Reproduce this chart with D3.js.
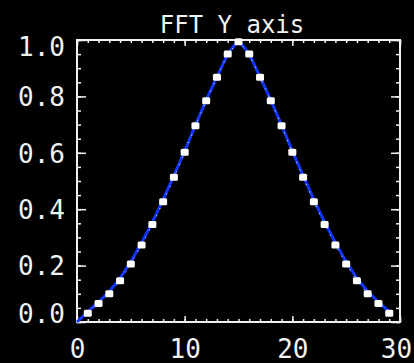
<!DOCTYPE html>
<html>
<head>
<meta charset="utf-8">
<script src="https://cdn.jsdelivr.net/npm/d3@7"></script>
<style>
  html, body { margin: 0; padding: 0; background: #000; }
  svg { display: block; }
</style>
</head>
<body>
<div id="chart"></div>
<script>
// FFT magnitude along the Y axis: sampled curve and marker points
const lineX = [0,1,2,3,4,5,6,7,8,9,10,11,12,13,14,15,16,17,18,19,20,21,22,23,24,25,26,27,28,29];
const lineY = [0.0,0.036,0.071,0.108,0.155,0.214,0.281,0.354,0.434,0.519,0.606,0.698,0.787,0.869,0.950,1.0,
               0.950,0.869,0.787,0.698,0.606,0.519,0.434,0.354,0.281,0.214,0.155,0.108,0.071,0.036];
const markX = [1,2,3,4,5,6,7,8,9,10,11,12,13,14,15,16,17,18,19,20,21,22,23,24,25,26,27,28,29];
const markY = [0.031,0.066,0.100,0.146,0.206,0.273,0.346,0.426,0.513,0.602,0.696,0.785,0.868,0.950,0.994,
               0.950,0.868,0.785,0.696,0.602,0.513,0.426,0.346,0.273,0.206,0.146,0.100,0.066,0.031];
const xMajor = [0, 10, 20, 30];
const xMinor = d3.range(0, 31, 1);
const yMajor = [0.0, 0.2, 0.4, 0.6, 0.8, 1.0];
const yMinor = d3.range(0, 1.0001, 0.05);
const title = "FFT Y axis";

const W = 414, H = 363;
const plotL = 77, plotR = 400, plotT = 40, plotB = 322;
const fg = "#f2f2f2";
const font = '"DejaVu Sans Mono", monospace';

const svg = d3.select("#chart").append("svg").attr("width", W).attr("height", H);
svg.append("rect").attr("width", W).attr("height", H).attr("fill", "#000");

const x = d3.scaleLinear().domain([0, 30]).range([plotL, plotR]);
const y = d3.scaleLinear().domain([0, 1]).range([plotB, plotT]);

function styleAxis(g) {
  g.select(".domain").remove();
  g.selectAll(".tick line").attr("stroke", fg).attr("stroke-width", 1.5);
  g.selectAll("text").attr("fill", fg).attr("font-family", font).attr("font-size", 26);
}

// minor ticks on all four sides, pointing inward
svg.append("g").attr("transform", `translate(0,${plotB})`)
  .call(d3.axisBottom(x).tickValues(xMinor).tickSize(-3).tickFormat(""))
  .call(styleAxis);
svg.append("g").attr("transform", `translate(0,${plotT})`)
  .call(d3.axisTop(x).tickValues(xMinor).tickSize(-3).tickFormat(""))
  .call(styleAxis);
svg.append("g").attr("transform", `translate(${plotL},0)`)
  .call(d3.axisLeft(y).tickValues(yMinor).tickSize(-4).tickFormat(""))
  .call(styleAxis);
svg.append("g").attr("transform", `translate(${plotR},0)`)
  .call(d3.axisRight(y).tickValues(yMinor).tickSize(-4).tickFormat(""))
  .call(styleAxis);

// major ticks and labels
const xAx = svg.append("g").attr("transform", `translate(0,${plotB})`)
  .call(d3.axisBottom(x).tickValues(xMajor).tickSize(-6).tickPadding(18).tickFormat(d3.format("d")))
  .call(styleAxis);
xAx.selectAll(".tick").filter(d => d === 30).select("text").attr("dx", -4);

svg.append("g").attr("transform", `translate(0,${plotT})`)
  .call(d3.axisTop(x).tickValues(xMajor).tickSize(-6).tickFormat(""))
  .call(styleAxis);

const yAx = svg.append("g").attr("transform", `translate(${plotL},0)`)
  .call(d3.axisLeft(y).tickValues(yMajor).tickSize(-9).tickPadding(12).tickFormat(d3.format(".1f")))
  .call(styleAxis);
yAx.selectAll("text").attr("dy", "0.36em");
yAx.selectAll(".tick").filter(d => d === 0).select("text").attr("dy", "0.0em");
yAx.selectAll(".tick").filter(d => d === 1).select("text").attr("dy", "0.6em");

svg.append("g").attr("transform", `translate(${plotR},0)`)
  .call(d3.axisRight(y).tickValues(yMajor).tickSize(-9).tickFormat(""))
  .call(styleAxis);

// plot frame
svg.append("rect")
  .attr("x", plotL).attr("y", plotT)
  .attr("width", plotR - plotL).attr("height", plotB - plotT)
  .attr("fill", "none").attr("stroke", fg).attr("stroke-width", 2);

// title
svg.append("text")
  .attr("x", 232).attr("y", 33)
  .attr("text-anchor", "middle")
  .attr("fill", fg).attr("font-family", font).attr("font-size", 24)
  .text(title);

// blue curve
const line = d3.line().x((d, i) => x(lineX[i])).y(d => y(d));
svg.append("path")
  .datum(lineY)
  .attr("d", line)
  .attr("fill", "none")
  .attr("stroke", "#1236ff")
  .attr("stroke-width", 3)
  .attr("stroke-linejoin", "round");

// faint dotted overlay through the markers
const mline = d3.line().x((d, i) => x(markX[i])).y(d => y(d));
svg.append("path")
  .datum(markY)
  .attr("d", mline)
  .attr("fill", "none")
  .attr("stroke", "#ffffff")
  .attr("stroke-width", 1)
  .attr("stroke-dasharray", "1,7");

// square markers
svg.append("g").selectAll("rect")
  .data(markY)
  .join("rect")
  .attr("x", (d, i) => x(markX[i]) - 4)
  .attr("y", d => y(d) - 3.5)
  .attr("width", 8)
  .attr("height", 7)
  .attr("rx", 1.5)
  .attr("fill", "#ffffff");
</script>
</body>
</html>
